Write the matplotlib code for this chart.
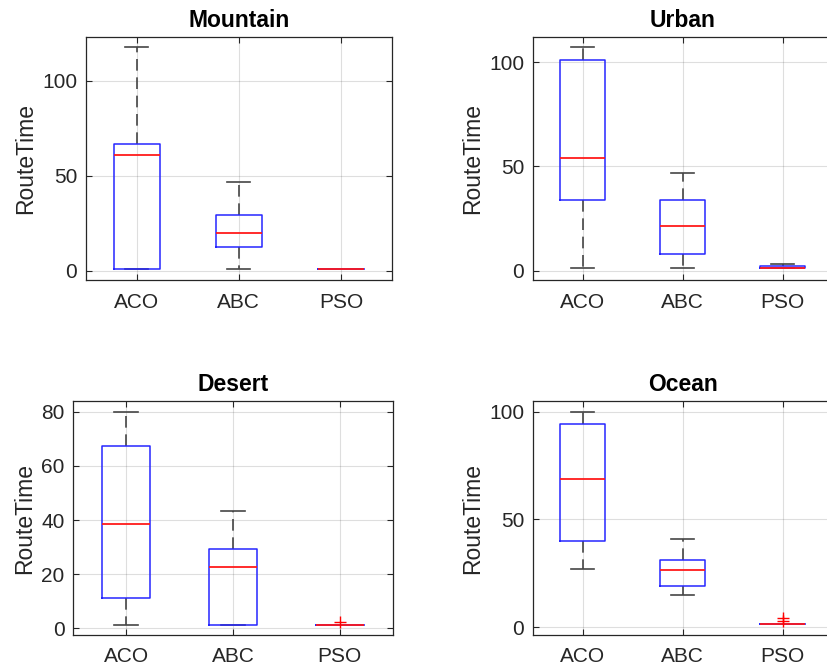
import matplotlib
matplotlib.use("Agg")
import matplotlib.pyplot as plt

plt.rcParams['font.family'] = ['Liberation Sans', 'DejaVu Sans']

algorithms = ["ACO", "ABC", "PSO"]
terrains = ["Mountain", "Urban", "Desert", "Ocean"]

# five-number summaries per terrain: [low whisker, Q1, median, Q3, high whisker] for ACO, ABC, PSO
mountain_stats = [[1.0, 1.0, 60.7, 66.7, 117.8],
                  [1.0, 12.5, 19.7, 29.5, 46.6],
                  [0.8, 0.8, 0.8, 0.8, 0.8]]
urban_stats = [[1.1, 34.0, 54.2, 101.0, 107.0],
               [1.1, 8.0, 21.6, 34.0, 47.0],
               [1.2, 1.2, 1.3, 2.1, 3.2]]
desert_stats = [[1.2, 11.2, 38.6, 67.2, 80.0],
                [1.2, 1.2, 22.8, 29.2, 43.2],
                [1.3, 1.3, 1.3, 1.3, 1.3]]
ocean_stats = [[27.0, 40.1, 68.7, 94.4, 100.0],
               [15.0, 19.0, 26.5, 31.1, 41.0],
               [1.2, 1.2, 1.2, 1.2, 1.2]]

mountain_outliers = [[], [], []]
urban_outliers = [[], [], []]
desert_outliers = [[], [], [2.2]]
ocean_outliers = [[], [], [4.2, 3.0]]

all_stats = [mountain_stats, urban_stats, desert_stats, ocean_stats]
all_outliers = [mountain_outliers, urban_outliers, desert_outliers, ocean_outliers]

y_limits = [(-5, 123), (-4.5, 112), (-2.5, 84), (-3.7, 105)]
y_ticks = [[0, 50, 100], [0, 50, 100], [0, 20, 40, 60, 80], [0, 50, 100]]

W, H = 827, 670
# axes rectangles in pixels: left, top, width, height
rects_px = [(85.7, 37, 306.3, 243),
            (532.7, 37, 300, 243),
            (73, 401, 320, 234),
            (532.7, 401, 300, 234)]

fig = plt.figure(figsize=(W / 100, H / 100), dpi=100)
axcol = (0.15, 0.15, 0.15)

for i in range(4):
    l, t, w, h = rects_px[i]
    ax = fig.add_axes([l / W, 1 - (t + h) / H, w / W, h / H])
    stats = []
    for j, s in enumerate(all_stats[i]):
        stats.append(dict(whislo=s[0], q1=s[1], med=s[2], q3=s[3], whishi=s[4],
                          fliers=all_outliers[i][j], label=algorithms[j]))
    ax.bxp(stats, positions=[1, 2, 3], widths=0.45, showfliers=True,
           boxprops=dict(color=(0.15, 0.15, 1.0), linewidth=1.1, zorder=2.2),
           medianprops=dict(color=(1, 0.1, 0.1), linewidth=1.3, zorder=2.4),
           whiskerprops=dict(color='#454545', linewidth=1.2, linestyle=(0, (7, 4)), zorder=2.0),
           capprops=dict(color='#454545', linewidth=1.2, zorder=2.0),
           capwidths=0.225,
           flierprops=dict(marker='+', markeredgecolor=(1, 0, 0), markersize=9,
                           linestyle='none', markeredgewidth=1.0, zorder=2.5))
    ax.set_xlim(0.5, 3.5)
    ax.set_ylim(*y_limits[i])
    ax.set_yticks(y_ticks[i])
    ax.set_xticks([1, 2, 3])
    ax.set_xticklabels(algorithms)
    ax.grid(True, color=(0.15, 0.15, 0.15), alpha=0.15, linewidth=0.8)
    ax.set_axisbelow(True)
    ax.tick_params(axis='both', direction='in', top=True, right=True, length=4, width=0.8,
                   colors=axcol, labelsize=15, labelcolor=axcol)
    ax.tick_params(axis='x', pad=9)
    ax.tick_params(axis='y', pad=6)
    for sp in ax.spines.values():
        sp.set_color(axcol)
        sp.set_linewidth(0.9)
    ax.set_title(terrains[i], fontsize=16.5, fontweight='bold', pad=7)
    ax.set_ylabel("RouteTime", fontsize=16.5, color=axcol)

fig.savefig("out.png", dpi=100)
